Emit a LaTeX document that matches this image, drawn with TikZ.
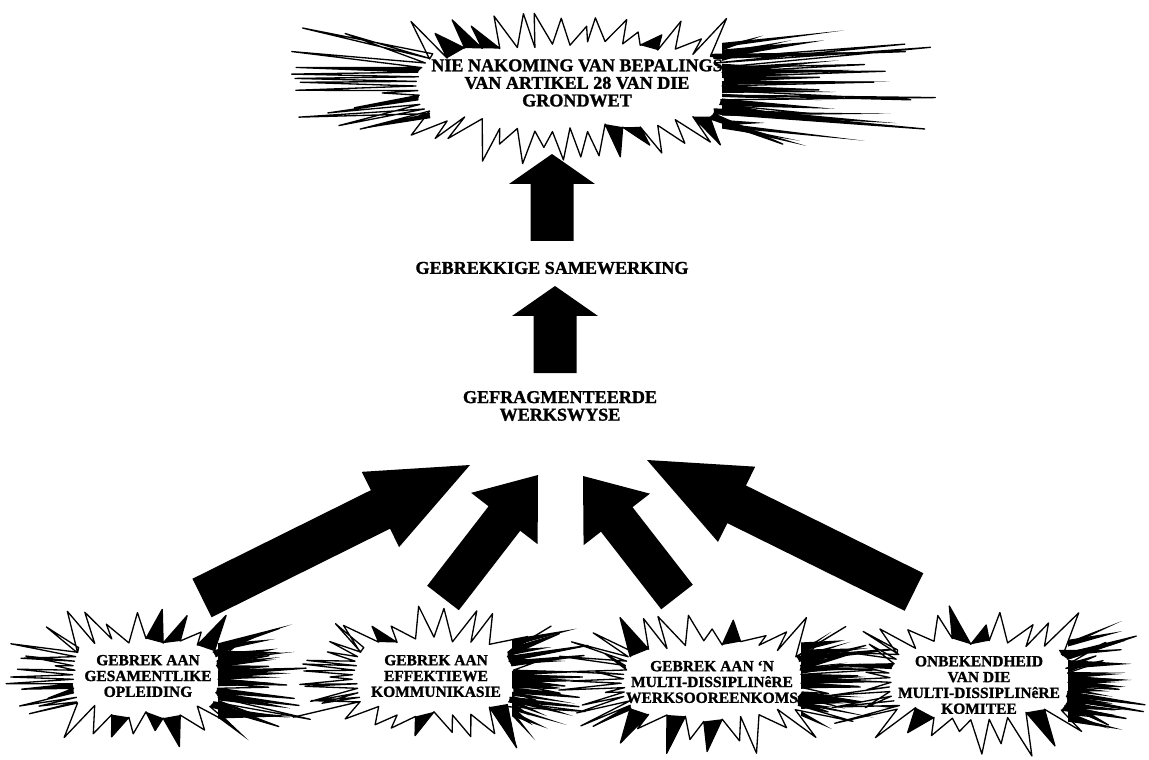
\documentclass[tikz,border=0pt]{standalone}
\usepackage{fontspec}
\setmainfont{Liberation Serif}[BoldFeatures={FakeBold=1.3}]
\usetikzlibrary{calc}
\tikzset{
  toplbl/.style={font=\bfseries\fontsize{10.3}{10}\selectfont, align=center, inner sep=0pt},
  botlbl/.style={font=\bfseries\fontsize{8.8}{9}\selectfont, align=center, inner sep=0pt},
  spike/.style={fill=white, draw=black, line width=0.75pt, line join=round},
  blot/.style={fill=black},
  bigarrow/.style={fill=black},
}
% burst: #1 name, #2 cx, #3 cy, #4 a, #5 b, #6 left length, #7 right length, #8 vertical length, #9 seed
\newcommand\burst[9]{%
  \pgfmathsetseed{#9}%
  \pgfmathtruncatemacro\nT{round(#4/10)}%
  \pgfmathtruncatemacro\nS{round(#5/3.2)}%
  % top edge, left to right
  \foreach \i in {0,...,\nT}{%
    \pgfmathsetmacro\u{-1+2*\i/\nT}%
    \pgfmathsetmacro\x{#2+0.9*#4*\u}%
    \pgfmathsetmacro\y{#3-#5+8*rnd+0.3*#5*\u*\u}%
    \coordinate (#1-t\i) at (\x,\y);
    \ifnum\i>0
      \pgfmathsetmacro\xm{\x-0.9*#4/\nT}%
      \pgfmathsetmacro\xt{\xm+(\xm-#2)/#4*30+(rnd-0.5)*14}%
      \pgfmathsetmacro\yt{#3-#5-#8*(0.2+0.8*rnd)+0.2*#5*\u*\u}%
      \coordinate (#1-tt\i) at (\xt,\yt);
    \fi
  }%
  % right edge, top to bottom
  \foreach \i in {0,...,\nS}{%
    \pgfmathsetmacro\v{-1+2*\i/\nS}%
    \pgfmathsetmacro\y{#3+0.7*#5*\v}%
    \pgfmathsetmacro\x{#2+#4-5*rnd-0.1*#4*\v*\v}%
    \coordinate (#1-r\i) at (\x,\y);
    \ifnum\i>0
      \pgfmathsetmacro\ym{\y-0.7*#5/\nS}%
      \pgfmathsetmacro\yt{\ym+(\ym-#3)*1.1*rnd}%
      \pgfmathsetmacro\xt{#2+#4+#7*(0.2+0.8*rnd)}%
      \coordinate (#1-rt\i) at (\xt,\yt);
    \fi
  }%
  % bottom edge, right to left
  \foreach \i in {0,...,\nT}{%
    \pgfmathsetmacro\u{1-2*\i/\nT}%
    \pgfmathsetmacro\x{#2+0.9*#4*\u}%
    \pgfmathsetmacro\y{#3+#5-8*rnd-0.3*#5*\u*\u}%
    \coordinate (#1-b\i) at (\x,\y);
    \ifnum\i>0
      \pgfmathsetmacro\xm{\x+0.9*#4/\nT}%
      \pgfmathsetmacro\xt{\xm+(\xm-#2)/#4*30+(rnd-0.5)*14}%
      \pgfmathsetmacro\yt{#3+#5+#8*(0.2+0.8*rnd)-0.2*#5*\u*\u}%
      \coordinate (#1-bt\i) at (\xt,\yt);
    \fi
  }%
  % left edge, bottom to top
  \foreach \i in {0,...,\nS}{%
    \pgfmathsetmacro\v{1-2*\i/\nS}%
    \pgfmathsetmacro\y{#3+0.7*#5*\v}%
    \pgfmathsetmacro\x{#2-#4+5*rnd+0.1*#4*\v*\v}%
    \coordinate (#1-l\i) at (\x,\y);
    \ifnum\i>0
      \pgfmathsetmacro\ym{\y+0.7*#5/\nS}%
      \pgfmathsetmacro\yt{\ym+(\ym-#3)*1.1*rnd}%
      \pgfmathsetmacro\xt{#2-#4-#6*(0.2+0.8*rnd)}%
      \coordinate (#1-lt\i) at (\xt,\yt);
    \fi
  }%
  \draw[spike] (#1-t0)
     \foreach \i in {1,...,\nT}{ -- (#1-tt\i) -- (#1-t\i)}
     \foreach \i in {1,...,\nS}{ -- (#1-rt\i) -- (#1-r\i)}
     \foreach \i in {1,...,\nT}{ -- (#1-bt\i) -- (#1-b\i)}
     \foreach \i in {1,...,\nS}{ -- (#1-lt\i) -- (#1-l\i)} -- cycle;
  % dark spikes
  \foreach \i [evaluate=\i as \j using int(\i-1)] in {1,...,\nT}{%
    \pgfmathtruncatemacro\flag{rnd<0.3 ? 1 : 0}%
    \ifnum\flag=1 \fill[blot] (#1-t\j) -- (#1-tt\i) -- (#1-t\i) -- cycle; \fi
    \pgfmathtruncatemacro\flag{rnd<0.3 ? 1 : 0}%
    \ifnum\flag=1 \fill[blot] (#1-b\j) -- (#1-bt\i) -- (#1-b\i) -- cycle; \fi
  }%
  \foreach \i [evaluate=\i as \j using int(\i-1)] in {1,...,\nS}{%
    \pgfmathtruncatemacro\flag{rnd<0.55 ? 1 : 0}%
    \ifnum\flag=1 \fill[blot] (#1-r\j) -- (#1-rt\i) -- (#1-r\i) -- cycle; \fi
    \pgfmathtruncatemacro\flag{rnd<0.12 ? 1 : 0}%
    \ifnum\flag=1 \fill[blot] (#1-l\j) -- (#1-lt\i) -- (#1-l\i) -- cycle; \fi
  }%
  \foreach \j in {1,...,22}{%
    \pgfmathsetmacro\yy{#3+#5*0.9*(2*rnd-1)}%
    \pgfmathsetmacro\w{1.5+3*rnd}%
    \pgfmathsetmacro\bx{#2+#4-4}%
    \pgfmathsetmacro\tx{#2+#4+#7*(0.15+0.6*rnd)}%
    \pgfmathsetmacro\ty{\yy+(\yy-#3)*0.8*rnd}%
    \fill[blot] (\bx,\yy-\w) -- (\tx,\ty) -- (\bx,\yy+\w) -- cycle;
  }%
}
% block arrow: #1 tail coord, #2 tip coord, #3 shaft half width, #4 head half width, #5 head length (px)
\newcommand\blockarrow[5]{%
  \pgfmathsetmacro\sw{#3*0.5690551}%
  \pgfmathsetmacro\hw{#4*0.5690551}%
  \pgfmathsetmacro\hl{#5*0.5690551}%
  \coordinate (hb) at ($(#2)!\hl pt!(#1)$);
  \fill[bigarrow] ($(#1)!\sw pt!90:(#2)$) -- ($(hb)!\sw pt!-90:(#1)$) -- ($(hb)!\hw pt!-90:(#1)$)
    -- (#2) -- ($(hb)!\hw pt!90:(#1)$) -- ($(hb)!\sw pt!90:(#1)$) -- ($(#1)!\sw pt!-90:(#2)$) -- cycle;
}
\begin{document}
\begin{tikzpicture}[x=0.02cm,y=-0.02cm]
\useasboundingbox (0,0) rectangle (1149,760);
\fill[white] (0,0) rectangle (1149,760);

% bursts
\burst{top}{570}{86}{156}{46}{150}{242}{34}{11}
\burst{ba}{146}{677}{76}{42}{64}{98}{34}{21}
\burst{bb}{434}{677}{82}{42}{66}{86}{34}{31}
\burst{bc}{713}{681}{92}{41}{66}{100}{34}{41}
\burst{bd}{980}{680}{92}{43}{60}{80}{34}{51}

% labels
\node[toplbl] (nie) at (577,83) {NIE NAKOMING VAN BEPALINGS\\VAN ARTIKEL 28 VAN DIE\\GRONDWET};
\node[toplbl] (sam) at (552,268) {GEBREKKIGE SAMEWERKING};
\node[toplbl] (fra) at (560,406) {GEFRAGMENTEERDE\\WERKSWYSE};
\node[botlbl] (opl) at (148,676) {GEBREK AAN\\GESAMENTLIKE\\OPLEIDING};
\node[botlbl] (kom) at (436,676) {GEBREK AAN\\EFFEKTIEWE\\KOMMUNIKASIE};
\node[botlbl] (wer) at (712,682) {GEBREK AAN ‘N\\MULTI-DISSIPLINêRE\\WERKSOOREENKOMS};
\node[botlbl] (kmt) at (979,685) {ONBEKENDHEID\\VAN DIE\\MULTI-DISSIPLINêRE\\KOMITEE};

% arrow end points
\coordinate (v1t) at (552,241); \coordinate (v1h) at (552,154);
\coordinate (v2t) at (555,373); \coordinate (v2h) at (555,286);
\coordinate (d1t) at (202,598); \coordinate (d1h) at (470,465);
\coordinate (d2t) at (443,598); \coordinate (d2h) at (538,475);
\coordinate (d3t) at (677,597); \coordinate (d3h) at (583,476);
\coordinate (d4t) at (914,592); \coordinate (d4h) at (647,460);

\blockarrow{v1t}{v1h}{21.5}{43}{30}
\blockarrow{v2t}{v2h}{21.5}{43}{30}
\blockarrow{d1t}{d1h}{21.5}{42}{100}
\blockarrow{d2t}{d2h}{20}{42}{55}
\blockarrow{d3t}{d3h}{20}{42}{55}
\blockarrow{d4t}{d4h}{21}{42}{100}
\end{tikzpicture}
\end{document}
